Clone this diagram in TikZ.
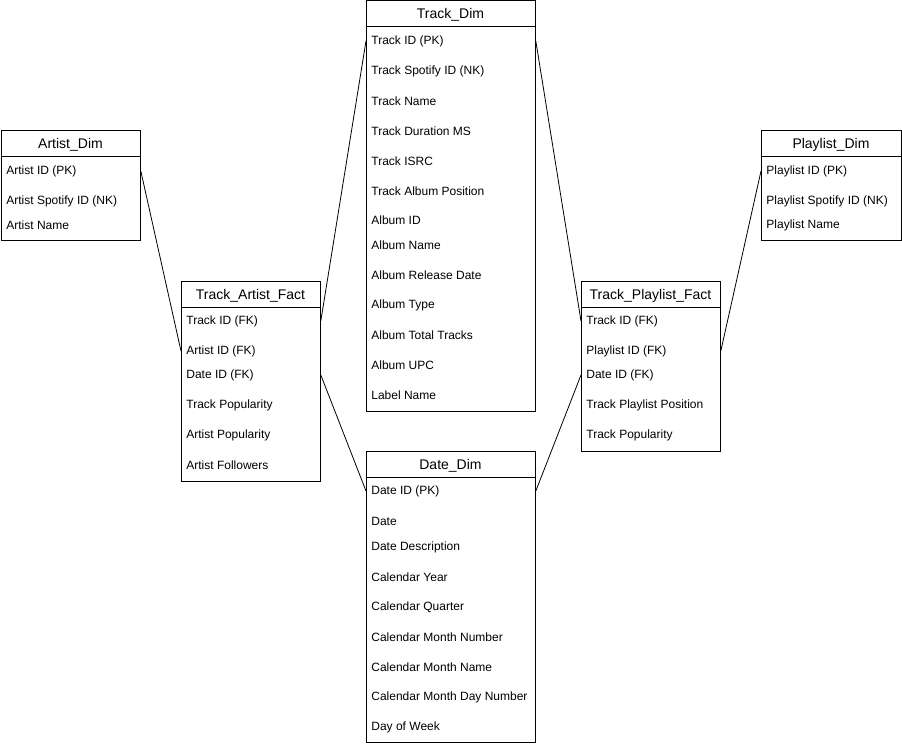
\documentclass[tikz,border=0pt]{standalone}
\usepackage{fontspec}
\setmainfont{Liberation Sans}
\usetikzlibrary{positioning}

\begin{document}
\begin{tikzpicture}[x=1pt,y=-1pt,line width=0.8pt,
  tbl/.style = {draw, anchor=north west, inner sep=0pt},
  head/.style = {yshift=-1.5pt, font=\fontsize{14}{16}\selectfont},
  row/.style = {anchor=west, inner sep=0pt, yshift=-1pt, font=\fontsize{12}{14}\selectfont}]
      \useasboundingbox (0,0) rectangle (902,746);

      % tables
      \node[tbl, minimum width=139.5pt, minimum height=110pt](ad) at (0.5,130) {};
      \node[tbl, minimum width=169pt, minimum height=410pt](td) at (366,0.5) {};
      \node[tbl, minimum width=140pt, minimum height=110pt](pd) at (761,130) {};
      \node[tbl, minimum width=139pt, minimum height=200pt](taf) at (181,281) {};
      \node[tbl, minimum width=139pt, minimum height=170pt](tpf) at (581,281) {};
      \node[tbl, minimum width=169pt, minimum height=291pt](dd) at (366,451) {};

      % headers
      \node[head](ad-t) at (70.5,143) {Artist\_Dim};
      \node[head](td-t) at (450.5,13.5) {Track\_Dim};
      \node[head](pd-t) at (831,143) {Playlist\_Dim};
      \node[head](taf-t) at (250.5,294) {Track\_Artist\_Fact};
      \node[head](tpf-t) at (650.5,294) {Track\_Playlist\_Fact};
      \node[head](dd-t) at (450.5,464) {Date\_Dim};
      \draw (ad.north west) ++(0,26) -- ++(139.5,0);
      \draw (td.north west) ++(0,26) -- ++(169,0);
      \draw (pd.north west) ++(0,26) -- ++(140,0);
      \draw (taf.north west) ++(0,26) -- ++(139,0);
      \draw (tpf.north west) ++(0,26) -- ++(139,0);
      \draw (dd.north west) ++(0,26) -- ++(169,0);

      % rows
      \foreach \y/\t [count=\i] in {170/Artist ID (PK), 200/Artist Spotify ID (NK), 224/Artist Name}
        \node[row](ad-\i) at (6,\y) {\t};
      \foreach \y/\t [count=\i] in {40/Track ID (PK), 70/Track Spotify ID (NK), 100/Track Name,
          130/Track Duration MS, 160/Track ISRC, 190/Track Album Position, 219/Album ID,
          244/Album Name, 274/Album Release Date, 304/Album Type, 334/Album Total Tracks,
          364/Album UPC, 394/Label Name}
        \node[row](td-\i) at (371,\y) {\t};
      \foreach \y/\t [count=\i] in {170/Playlist ID (PK), 200/Playlist Spotify ID (NK), 224/Playlist Name}
        \node[row](pd-\i) at (766,\y) {\t};
      \foreach \y/\t [count=\i] in {320/Track ID (FK), 350/Artist ID (FK), 374/Date ID (FK),
          404/Track Popularity, 434/Artist Popularity, 464/Artist Followers}
        \node[row](taf-\i) at (186,\y) {\t};
      \foreach \y/\t [count=\i] in {320/Track ID (FK), 350/Playlist ID (FK), 374/Date ID (FK),
          404/Track Playlist Position, 434/Track Popularity}
        \node[row](tpf-\i) at (586,\y) {\t};
      \foreach \y/\t [count=\i] in {490/Date ID (PK), 520/Date, 546/Date Description,
          576/Calendar Year, 606/Calendar Quarter, 636/Calendar Month Number,
          666/Calendar Month Name, 696/Calendar Month Day Number, 726/Day of Week}
        \node[row](dd-\i) at (371,\y) {\t};

      % relations
      \path
      (ad.east |- ad-1) edge (taf.west |- taf-2)
      (taf.east |- taf-1) edge (td.west |- td-1)
      (taf.east |- taf-3) edge (dd.west |- dd-1)
      (td.east |- td-1) edge (tpf.west |- tpf-1)
      (tpf.west |- tpf-3) edge (dd.east |- dd-1)
      (pd.west |- pd-1) edge (tpf.east |- tpf-2)
      ;

    \end{tikzpicture}
\end{document}
